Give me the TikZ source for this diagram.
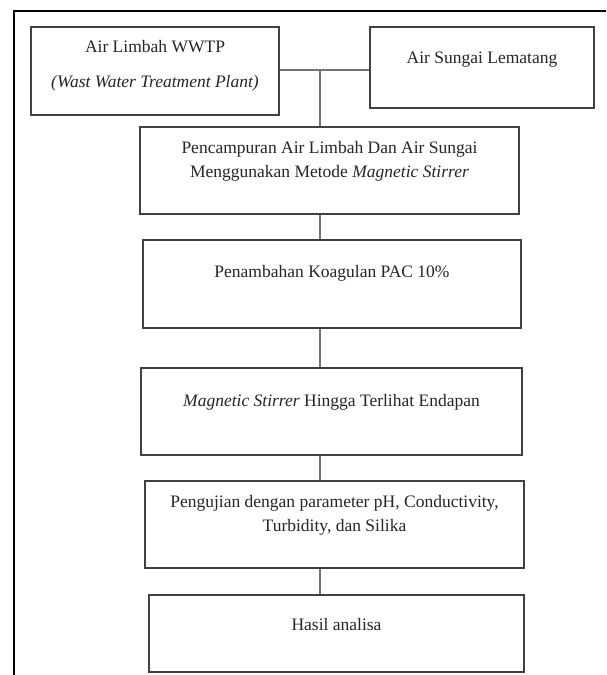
\documentclass[tikz,border=0pt]{standalone}
\usepackage{fontspec}
\setmainfont{Liberation Serif}
\begin{document}
\begin{tikzpicture}[x=1pt,y=-1pt,
  box/.style={draw=black!75, line width=1.2pt, inner sep=0pt, fill=white},
  txt/.style={align=center, inner sep=0pt, font=\fontsize{17.5pt}{24pt}\selectfont, text=black!85},
  conn/.style={draw=black!55, line width=1.6pt},
  frame/.style={draw=black, line width=1.6pt}]
\useasboundingbox (0,0) rectangle (606,675);
\coordinate (fa) at (14,675);
\coordinate (fb) at (14,11);
\coordinate (fc) at (606,11);
\draw[frame] (fa) -- (fb) -- (fc);
\coordinate (j) at (320,70);
% connectors first
\node[box, minimum width=248pt, minimum height=88pt] (b1) at (155,71) {};
\node[box, minimum width=224pt, minimum height=81pt] (b2) at (482,67.5) {};
\node[box, minimum width=379pt, minimum height=87pt] (b3) at (329.5,170.5) {};
\node[box, minimum width=378pt, minimum height=88pt] (b4) at (332,284) {};
\node[box, minimum width=381pt, minimum height=87pt] (b5) at (331.5,411.5) {};
\node[box, minimum width=379pt, minimum height=87pt] (b6) at (334.5,524.5) {};
\node[box, minimum width=375pt, minimum height=77pt] (b7) at (336.5,633.5) {};
\draw[conn] (b1.east |- j) -- (b2.west |- j);
\draw[conn] (j) -- (j |- b3.north);
\draw[conn] (b3.south -| j) -- (b4.north -| j);
\draw[conn] (b4.south -| j) -- (b5.north -| j);
\draw[conn] (b5.south -| j) -- (b6.north -| j);
\draw[conn] (b6.south -| j) -- (b7.north -| j);
\node[txt] (t1) at (155,65.5) {Air Limbah WWTP\\[11pt]\textit{(Wast Water Treatment Plant)}};
\node[txt] (t2) at (482,60) {Air Sungai Lematang};
\node[txt] (t3) at (329.5,161.5) {Pencampuran Air Limbah Dan Air Sungai\\Menggunakan Metode \textit{Magnetic Stirrer}};
\node[txt] (t4) at (332,273) {Penambahan Koagulan PAC 10\%};
\node[txt] (t5) at (331.5,402) {\textit{Magnetic Stirrer} Hingga Terlihat Endapan};
\node[txt] (t6) at (334.5,515.5) {Pengujian dengan parameter pH, Conductivity,\\Turbidity, dan Silika};
\node[txt] (t7) at (336.5,625) {Hasil analisa};
\end{tikzpicture}
\end{document}
